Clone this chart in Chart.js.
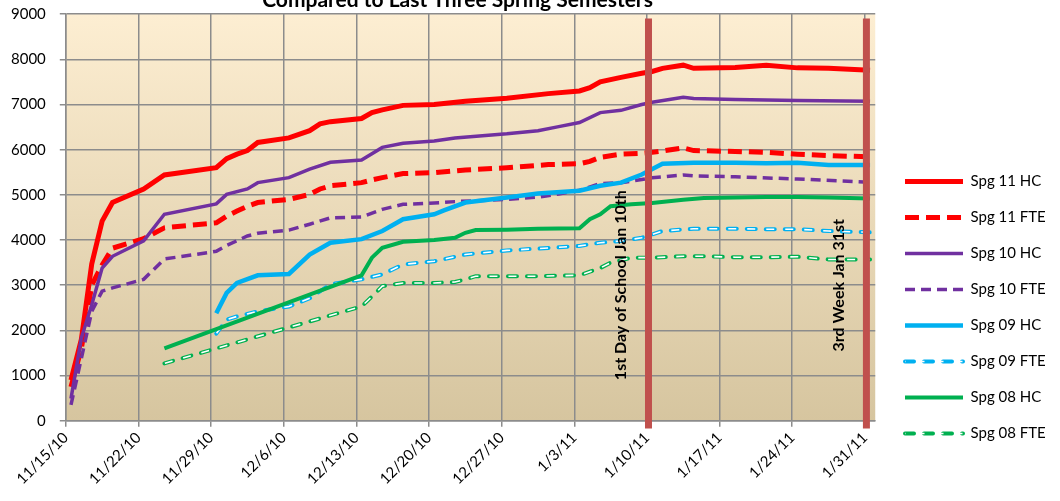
<!DOCTYPE html>
<html>
<head>
<meta charset="utf-8">
<script src="https://cdn.jsdelivr.net/npm/chart.js@4.4.0/dist/chart.umd.min.js"></script>
<style>
  html, body { margin: 0; padding: 0; background: #fff; }
</style>
</head>
<body>
<canvas id="enrollChart" width="1060" height="501"></canvas>
<script>
// x values are days after 11/15/10 (day 0)
const seriesNames = ['Spg 11 HC', 'Spg 11 FTE', 'Spg 10 HC', 'Spg 10 FTE', 'Spg 09 HC', 'Spg 09 FTE', 'Spg 08 HC', 'Spg 08 FTE'];

const spg11Days = [0, 1, 2, 3, 4, 7, 9, 14, 15, 16, 17, 18, 21, 23, 24, 25, 28, 29, 30, 32, 35, 38, 42, 46, 49, 50, 51, 53, 55, 56, 57, 59, 60, 64, 67, 70, 73, 77];
const spg11HC = [900, 1800, 3470, 4420, 4830, 5130, 5440, 5600, 5800, 5900, 5980, 6160, 6260, 6420, 6570, 6620, 6690, 6820, 6880, 6980, 7000, 7070, 7140, 7240, 7300, 7370, 7500, 7600, 7690, 7730, 7800, 7870, 7800, 7820, 7870, 7810, 7800, 7760];
const spg11FTE = [750, 1600, 3000, 3450, 3820, 4030, 4270, 4380, 4530, 4640, 4750, 4830, 4900, 5010, 5130, 5200, 5270, 5330, 5380, 5470, 5490, 5550, 5600, 5670, 5690, 5740, 5830, 5900, 5920, 5940, 5970, 6040, 5980, 5960, 5940, 5900, 5870, 5840];

const spg10Days = [0, 1, 2, 3, 4, 7, 9, 14, 15, 17, 18, 21, 23, 25, 28, 30, 32, 35, 37, 42, 45, 47, 49, 51, 53, 55, 56, 59, 60, 64, 70, 77];
const spg10HC = [490, 1830, 2570, 3380, 3640, 3980, 4570, 4800, 5010, 5130, 5270, 5380, 5570, 5720, 5770, 6050, 6140, 6190, 6260, 6350, 6420, 6510, 6600, 6820, 6870, 7000, 7050, 7160, 7130, 7110, 7090, 7070];
const spg10FTE = [350, 1380, 2420, 2870, 2940, 3130, 3580, 3750, 3880, 4090, 4150, 4220, 4350, 4490, 4510, 4680, 4790, 4820, 4850, 4900, 4950, 5020, 5100, 5250, 5270, 5340, 5380, 5440, 5420, 5400, 5350, 5280];

const spg09Days = [14, 15, 16, 18, 21, 23, 25, 28, 30, 32, 35, 36, 38, 42, 45, 49, 51, 53, 55, 57, 60, 64, 67, 70, 73, 77];
const spg09HC = [2380, 2830, 3050, 3220, 3250, 3680, 3940, 4020, 4200, 4460, 4570, 4660, 4830, 4940, 5030, 5090, 5200, 5270, 5450, 5690, 5710, 5710, 5700, 5710, 5660, 5660];
const spg09FTE = [1930, 2240, 2310, 2420, 2530, 2710, 3020, 3130, 3240, 3460, 3530, 3580, 3680, 3770, 3810, 3870, 3940, 3980, 4050, 4200, 4250, 4250, 4240, 4240, 4200, 4170];

const spg08Days = [9, 28, 29, 30, 32, 35, 37, 38, 39, 42, 45, 49, 50, 51, 52, 54, 56, 59, 61, 64, 67, 70, 73, 77];
const spg08HC = [1600, 3220, 3610, 3830, 3960, 4000, 4050, 4160, 4220, 4230, 4250, 4260, 4460, 4570, 4750, 4790, 4820, 4890, 4930, 4940, 4950, 4950, 4940, 4920];
const spg08FTE = [1270, 2530, 2750, 2980, 3050, 3050, 3070, 3130, 3200, 3200, 3200, 3220, 3300, 3380, 3500, 3610, 3610, 3640, 3640, 3620, 3620, 3630, 3570, 3570];

// Vertical marker bars (1/10/11 and 1/31/11)
const markerDays = [56, 77];
const markerLabels = ['1st Day of School Jan 10th', '3rd Week Jan 31st'];

const FONT = 'Lato, "Open Sans", sans-serif';
Chart.defaults.font.family = FONT;
Chart.defaults.color = '#000';

function fmtDate(day) {
    const d = new Date(2010, 10, 15 + day);
    return (d.getMonth() + 1) + '/' + d.getDate() + '/' + String(d.getFullYear()).slice(2);
}

// excel puts points in the middle of the day on a date axis
function toPoints(days, values) {
    return days.map((d, i) => ({ x: d + 0.5, y: values[i] }));
}

function series(label, days, values, color, width, dash, hollow) {
    return {
        label: label,
        data: toPoints(days, values),
        borderColor: color,
        backgroundColor: color,
        borderWidth: width,
        borderDash: dash || [],
        borderCapStyle: hollow ? 'round' : 'butt',
        hollow: !!hollow,
        pointRadius: 0,
        tension: 0,
    };
}

const datasets = [
    series(seriesNames[0], spg11Days, spg11HC, '#ff0000', 5),
    series(seriesNames[1], spg11Days, spg11FTE, '#ff0000', 5, [14, 7]),
    series(seriesNames[2], spg10Days, spg10HC, '#7030a0', 3.5),
    series(seriesNames[3], spg10Days, spg10FTE, '#7030a0', 3.5, [10, 6]),
    series(seriesNames[4], spg09Days, spg09HC, '#00b0f0', 4.5),
    series(seriesNames[5], spg09Days, spg09FTE, '#00b0f0', 4, [9, 10], true),
    series(seriesNames[6], spg08Days, spg08HC, '#00b050', 4),
    series(seriesNames[7], spg08Days, spg08FTE, '#00b050', 4, [9, 10], true),
];
// later series sit on top, like excel
datasets.forEach((ds, i) => { ds.order = -i; });

markerDays.forEach((d) => {
    datasets.push({
        label: '',
        data: [{ x: d + 0.15, y: -170 }, { x: d + 0.15, y: 8900 }],
        borderColor: '#c0504d',
        borderWidth: 7,
        pointRadius: 0,
        clip: false,
        order: -20,
    });
});

const plotBackground = {
    id: 'plotBackground',
    beforeDraw(chart) {
        const { ctx, chartArea: a } = chart;
        const g = ctx.createLinearGradient(0, a.top, 0, a.bottom);
        g.addColorStop(0, '#fdeed2');
        g.addColorStop(1, '#d6c59f');
        ctx.save();
        ctx.fillStyle = g;
        ctx.fillRect(a.left, a.top, a.right - a.left, a.bottom - a.top);
        ctx.restore();
    }
};

// white core for the "open" dashes
const hollowDashes = {
    id: 'hollowDashes',
    afterDatasetDraw(chart, args) {
        const ds = chart.data.datasets[args.index];
        if (!ds.hollow) return;
        const ctx = chart.ctx;
        const pts = args.meta.data;
        ctx.save();
        ctx.strokeStyle = '#fff';
        ctx.lineWidth = 1.6;
        ctx.setLineDash([ds.borderDash[0] - 1, ds.borderDash[1] + 1]);
        ctx.lineDashOffset = -0.5;
        ctx.beginPath();
        pts.forEach((p, i) => i ? ctx.lineTo(p.x, p.y) : ctx.moveTo(p.x, p.y));
        ctx.stroke();
        ctx.restore();
    },
    afterDraw(chart) {
        const lg = chart.legend;
        const ctx = chart.ctx;
        const w = lg.options.labels.pointStyleWidth;
        const half = lg.options.labels.font.size / 2;
        lg.legendItems.forEach((item, i) => {
            const ds = chart.data.datasets[item.datasetIndex];
            if (!ds.hollow) return;
            const hb = lg.legendHitBoxes[i];
            ctx.save();
            ctx.strokeStyle = '#fff';
            ctx.lineWidth = 1.6;
            ctx.setLineDash([ds.borderDash[0] - 1, ds.borderDash[1] + 1]);
            ctx.lineDashOffset = -0.5;
            ctx.beginPath();
            ctx.moveTo(hb.left + w, hb.top + half);
            ctx.lineTo(hb.left, hb.top + half);
            ctx.stroke();
            ctx.restore();
        });
    }
};

const markerText = {
    id: 'markerText',
    afterDatasetsDraw(chart) {
        const { ctx, scales } = chart;
        ctx.save();
        ctx.font = 'bold 16px ' + FONT;
        ctx.fillStyle = '#000';
        ctx.textAlign = 'center';
        ctx.textBaseline = 'middle';
        markerLabels.forEach((text, i) => {
            const px = scales.x.getPixelForValue(markerDays[i] - 2.5);
            const py = scales.y.getPixelForValue(3000);
            ctx.save();
            ctx.translate(px, py);
            ctx.rotate(-Math.PI / 2);
            ctx.fillText(text, 0, 0);
            ctx.restore();
        });
        ctx.restore();
    }
};

// nudge the legend block (and the clipped title) to where excel put them
const blockPlacement = {
    id: 'blockPlacement',
    afterLayout(chart) {
        const lg = chart.legend;
        const pad = lg.options.labels.padding;
        const dx = 905 - (lg.left + pad);
        const dy = 174 - (lg.top + pad);
        lg.left += dx; lg.right += dx;
        lg.top += dy; lg.bottom += dy;

        const tb = chart.titleBlock;
        tb.top -= 6.5; tb.bottom -= 6.5;
        tb.left -= 13; tb.right -= 13;
    }
};

const gridStyle = { color: '#8c8c8c', lineWidth: 1.5, tickLength: 6 };
const borderStyle = { color: '#8c8c8c', width: 1.5 };

new Chart(document.getElementById('enrollChart').getContext('2d'), {
    type: 'line',
    data: { datasets: datasets },
    options: {
        responsive: false,
        animation: false,
        layout: { padding: { left: 11, right: 13, bottom: 11, top: 0 } },
        scales: {
            x: {
                type: 'linear',
                min: 0,
                max: 78,
                grid: gridStyle,
                border: borderStyle,
                afterFit(scale) { scale.paddingLeft = 0; },
                ticks: {
                    stepSize: 7,
                    maxTicksLimit: 20,
                    includeBounds: false,
                    autoSkip: false,
                    minRotation: 45,
                    maxRotation: 45,
                    padding: 2,
                    font: { size: 15 },
                    callback: (v) => fmtDate(v),
                },
            },
            y: {
                min: 0,
                max: 9000,
                grid: gridStyle,
                border: borderStyle,
                // chart.js counts tick padding twice (and vertically too); keep only the gap next to the axis
                afterFit(scale) {
                    scale.width -= scale.options.ticks.padding;
                    scale.paddingTop = 0;
                    scale.paddingBottom = 0;
                },
                ticks: {
                    stepSize: 1000,
                    padding: 14,
                    font: { size: 15 },
                    callback: (v) => String(v),
                },
            },
        },
        plugins: {
            title: {
                display: true,
                text: 'Compared to Last Three Spring Semesters',
                fullSize: false,
                font: { size: 21, weight: 'bold', lineHeight: 0.6 },
                padding: { top: 0, bottom: 1.5 },
            },
            legend: {
                position: 'right',
                align: 'start',
                labels: {
                    usePointStyle: true,
                    pointStyleWidth: 58,
                    padding: 21,
                    font: { size: 15 },
                    generateLabels(chart) {
                        return seriesNames.map((name, i) => {
                            const ds = chart.data.datasets[i];
                            return {
                                text: name,
                                datasetIndex: i,
                                pointStyle: 'line',
                                strokeStyle: ds.borderColor,
                                fillStyle: ds.borderColor,
                                lineWidth: ds.borderWidth,
                                lineDash: ds.borderDash,
                                lineCap: ds.borderCapStyle,
                                fontColor: '#000',
                                hidden: false,
                            };
                        });
                    },
                },
            },
            tooltip: { enabled: false },
        },
    },
    plugins: [plotBackground, hollowDashes, markerText, blockPlacement],
});
</script>
</body>
</html>
